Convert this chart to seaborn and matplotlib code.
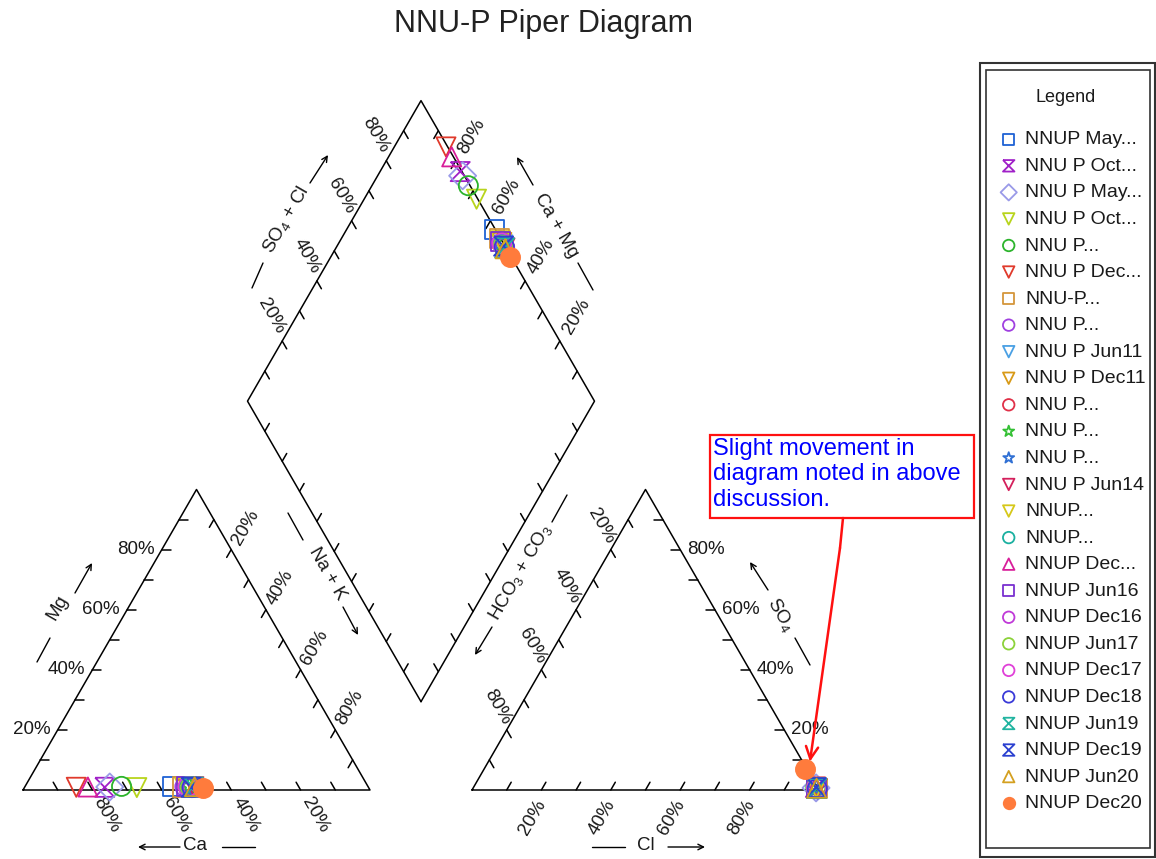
import numpy as np
import pandas as pd
import matplotlib
matplotlib.use('Agg')
import matplotlib.pyplot as plt
from matplotlib.patches import Rectangle
from matplotlib.path import Path
import seaborn as sns

# sample names as shown in the legend (truncated like the original)
samples = ['NNUP May...', 'NNU P Oct...', 'NNU P May...', 'NNU P Oct...', 'NNU P...',
           'NNU P Dec...', 'NNU-P...', 'NNU P...', 'NNU P Jun11', 'NNU P Dec11',
           'NNU P...', 'NNU P...', 'NNU P...', 'NNU P Jun14', 'NNUP...',
           'NNUP...', 'NNUP Dec...', 'NNUP Jun16', 'NNUP Dec16', 'NNUP Jun17',
           'NNUP Dec17', 'NNUP Dec18', 'NNUP Jun19', 'NNUP Dec19', 'NNUP Jun20',
           'NNUP Dec20']

# cations, % meq
ca = [56.3, 76.0, 74.5, 66.8, 71.0, 84.2, 53.5, 52.8, 51.6, 52.2, 50.8, 51.4, 52.6,
      50.2, 53.0, 51.8, 80.8, 52.4, 50.6, 51.2, 51.9, 50.9, 50.4, 51.1, 50.0, 47.7]
mg = [1.1, 0.9, 1.0, 0.8, 1.2, 0.9, 1.0, 1.1, 0.8, 0.9, 1.0, 1.2, 0.9,
      1.1, 0.8, 1.0, 1.0, 1.2, 0.9, 1.0, 1.1, 0.8, 1.0, 0.9, 1.1, 0.7]
nak = [42.6, 23.1, 24.5, 32.4, 27.8, 14.9, 45.5, 46.1, 47.6, 46.9, 48.2, 47.4, 46.5,
       48.7, 46.2, 47.2, 18.2, 46.4, 48.5, 47.8, 47.0, 48.3, 48.6, 48.0, 48.9, 51.6]

# anions, % meq
cl = [99.0, 98.6, 98.8, 99.1, 98.7, 98.5, 99.2, 99.0, 98.9, 99.3, 99.1, 98.8, 99.0,
      99.2, 98.9, 99.1, 98.6, 99.0, 99.2, 98.9, 99.0, 99.3, 99.1, 98.8, 99.0, 92.4]
so4 = [0.6, 0.9, 0.7, 0.5, 0.8, 1.0, 0.5, 0.6, 0.7, 0.4, 0.5, 0.8, 0.6,
       0.5, 0.7, 0.6, 0.9, 0.6, 0.5, 0.7, 0.6, 0.4, 0.5, 0.8, 0.6, 7.1]
hco3 = [0.4, 0.5, 0.5, 0.4, 0.5, 0.5, 0.3, 0.4, 0.4, 0.3, 0.4, 0.4, 0.4,
        0.3, 0.4, 0.3, 0.5, 0.4, 0.3, 0.4, 0.4, 0.3, 0.4, 0.4, 0.4, 0.5]

colors = ['#1f62d4', '#a020c8', '#9a9ae8', '#b8d41c', '#2cb42c', '#e03a2c', '#d4963c',
          '#a040e0', '#4aa0e4', '#d89a18', '#e03048', '#34c034', '#3070d4', '#d4205c',
          '#d6c81a', '#1ab0a0', '#d81e9a', '#7a30d0', '#c03ad8', '#8cd23a', '#e040d8',
          '#3a3ad8', '#20b4a0', '#2a40d0', '#d4a020', '#ff7b3c']

hourglass = Path([(-1, 1), (1, 1), (-1, -1), (1, -1), (-1, 1)])
markers = ['s', hourglass, 'D', 'v', 'o', 'v', 's', 'o', 'v', 'v', 'o', '*', '*',
           'v', 'v', 'o', '^', 's', 'o', 'o', 'o', 'o', hourglass, hourglass, '^', 'o']
filled = [False] * 25 + [True]

sns.set_style('white')
plt.rcParams['font.family'] = ['Liberation Sans', 'DejaVu Sans']
plt.rcParams['mathtext.default'] = 'regular'

S = 347.0                # pixels per unit side
H = np.sqrt(3) / 2
G = 102 / S              # gap between the two triangles


def px(x, y):
    return ((x - 23) / S, (790 - y) / S)


# ternary -> plane coordinates
df = pd.DataFrame({'sample': samples, 'ca': ca, 'mg': mg, 'nak': nak,
                   'cl': cl, 'so4': so4, 'hco3': hco3})
ct = df[['ca', 'mg', 'nak']].sum(axis=1)
at = df[['cl', 'so4', 'hco3']].sum(axis=1)
f_mg, f_nak = df['mg'] / ct, df['nak'] / ct
f_so4, f_cl = df['so4'] / at, df['cl'] / at
d0 = np.array([1 + G / 2, G * H])
cam = 1 - f_nak
scl = f_so4 + f_cl

df['cat_x'] = f_nak + f_mg / 2
df['cat_y'] = f_mg * H
df['an_x'] = 1 + G + f_cl + f_so4 / 2
df['an_y'] = f_so4 * H
df['dia_x'] = d0[0] + 0.5 * (scl - cam)
df['dia_y'] = d0[1] + H * (scl + cam)

fig = plt.figure(figsize=(11.56, 8.59), dpi=100)
ax = fig.add_axes([0, 0, 1, 1])

LW = 1.1
TL = 9 / S
TICKS = np.arange(10, 100, 10)
LABS = [20, 40, 60, 80]
FS = 13.5

uL = np.array([-0.5, H])
uR = np.array([0.5, H])
cat = np.array([[0, 0], [1, 0], [0.5, H], [0, 0]])
an = cat + [1 + G, 0]
dia = np.array([d0, d0 + uL, d0 + uL + uR, d0 + uR, d0])
for shape in (cat, an, dia):
    ax.plot(shape[:, 0], shape[:, 1], color='black', lw=LW, zorder=2)


def side(pos, tdir, lab=None):
    for v in TICKS:
        p = pos(v / 100)
        ax.plot([p[0], p[0] + tdir[0] * TL], [p[1], p[1] + tdir[1] * TL],
                color='black', lw=LW, zorder=2)
        if lab is not None and v in LABS:
            dx, dy, rot, ha = lab
            ax.text(p[0] + dx / S, p[1] - dy / S, f'{v}%', rotation=rot, ha=ha,
                    va='center', rotation_mode='anchor', fontsize=FS, color='#1a1a1a')


# cation triangle
side(lambda f: (1 - f, 0), (-0.5, H), (5, 9, -60, 'left'))
side(lambda f: (f / 2, f * H), (1, 0), (-7, 0, 0, 'right'))
side(lambda f: (0.5 + f / 2, (1 - f) * H), (-0.5, -H), (4.5, -6, 60, 'left'))
# anion triangle
side(lambda f: (1 + G + f, 0), (0.5, H), (1, 11, 60, 'right'))
side(lambda f: (2 + G - f / 2, f * H), (-1, 0), (7, 0, 0, 'left'))
side(lambda f: (1 + G + (1 - f) / 2, (1 - f) * H), (0.5, -H), (0, -7, -60, 'right'))
# diamond
side(lambda f: d0 + uL + f * uR, (0.5, -H), (-1, -9, -60, 'right'))
side(lambda f: d0 + uR + f * uL, (-0.5, -H), (7, -8, 60, 'left'))
side(lambda f: d0 + f * uL, (0.5, H))
side(lambda f: d0 + f * uR, (-0.5, H))

# axis titles with their lead lines and arrows
titles = [
    ('Mg', (58, 608), 60, ((37, 662), (50, 638)), ((75, 593), (92, 563))),
    ('Ca', (195, 845), 0, ((222, 847), (255, 847)), ((180, 847), (138, 847))),
    ('Na + K', (327, 574), -60, ((288, 513), (303, 540)), ((343, 607), (358, 635))),
    ('Cl', (646, 845), 0, ((592, 847), (625, 847)), ((668, 847), (705, 847))),
    (r'SO$_4$', (781, 615), -60, ((795, 638), (810, 665)), ((768, 590), (750, 562))),
    (r'HCO$_3$ + CO$_3$', (520, 572), 60, ((567, 495), (552, 522)), ((492, 627), (475, 655))),
    (r'SO$_4$ + Cl', (286, 220), 60, ((252, 288), (263, 263)), ((310, 183), (328, 155))),
    ('Ca + Mg', (556, 226), -60, ((578, 263), (593, 290)), ((533, 185), (517, 157))),
]
for txt, c, rot, seg, arr in titles:
    ax.text(*px(*c), txt, rotation=rot, ha='center', va='center', fontsize=FS,
            color='#1a1a1a')
    a, b = px(*seg[0]), px(*seg[1])
    ax.plot([a[0], b[0]], [a[1], b[1]], color='black', lw=1.0)
    ax.annotate('', xy=px(*arr[1]), xytext=px(*arr[0]),
                arrowprops=dict(arrowstyle='->', lw=1.0, color='black',
                                mutation_scale=10, shrinkA=0, shrinkB=0))

# sample points
for i, row in df.iterrows():
    pts = pd.DataFrame({'x': [row['cat_x'], row['an_x'], row['dia_x']],
                        'y': [row['cat_y'], row['an_y'], row['dia_y']]})
    fc = colors[i] if filled[i] else 'none'
    sns.scatterplot(data=pts, x='x', y='y', ax=ax, marker=markers[i], s=190,
                    color=colors[i], facecolor=fc, edgecolor=colors[i],
                    linewidth=1.3, label=row['sample'], legend=False, zorder=3)

# title
ax.text(*px(543, 24), 'NNU-P Piper Diagram', fontsize=22, ha='center', va='center',
        color='#222222')

# annotation box and arrow
ax.add_patch(Rectangle(px(710, 518), 264 / S, 83 / S, fc='white', ec='#ff1010',
                       lw=1.6, zorder=4))
ax.text(*px(713, 438), 'Slight movement in\ndiagram noted in above\ndiscussion.',
        color='#0000ff', fontsize=17, ha='left', va='top', zorder=5)
a, b = px(843, 518), px(840, 548)
ax.plot([a[0], b[0]], [a[1], b[1]], color='#ff1010', lw=1.8, zorder=4)
last = df.iloc[-1]
ax.annotate('', xy=(last['an_x'] + 5 / S, last['an_y'] + 7 / S), xytext=b,
            arrowprops=dict(arrowstyle='->', lw=1.8, color='#ff1010',
                            mutation_scale=22, shrinkA=0, shrinkB=0), zorder=4)

# legend with double frame
ax.add_patch(Rectangle(px(980, 857), 175 / S, 794 / S, fc='white', ec='#333333',
                       lw=1.5, zorder=1))
ax.add_patch(Rectangle(px(986, 848), 164 / S, 778 / S, fc='none', ec='#333333',
                       lw=1.2, zorder=1))
ax.text(*px(1066, 97), 'Legend', fontsize=13, ha='center', va='center',
        color='#1a1a1a')
handles, labels = ax.get_legend_handles_labels()
ax.legend(handles, labels, loc='center left', bbox_to_anchor=px(999, 471.5),
          bbox_transform=ax.transData, frameon=False, fontsize=14, markerscale=0.6,
          handlelength=1.0, handletextpad=0.35, labelspacing=0.46, borderpad=0,
          borderaxespad=0, scatterpoints=1, labelcolor='#1a1a1a')

ax.set_xlim(-23 / S, (1156 - 23) / S)
ax.set_ylim(-(859 - 790) / S, 790 / S)
ax.axis('off')

fig.savefig('out.png', dpi=100)
